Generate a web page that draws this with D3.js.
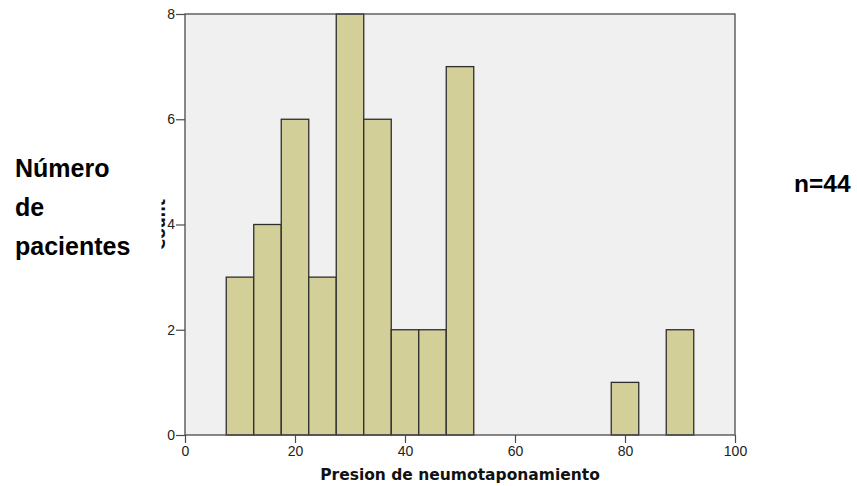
<!DOCTYPE html>
<html>
<head>
<meta charset="utf-8">
<script src="https://cdn.jsdelivr.net/npm/d3@7"></script>
<style>
  body { margin: 0; background: #fff; }
  svg { display: block; }
</style>
</head>
<body>
<div id="chart"></div>
<script>
// histogram bins (lower edge) and patient counts
const binStarts = [7.5, 12.5, 17.5, 22.5, 27.5, 32.5, 37.5, 42.5, 47.5, 77.5, 87.5];
const counts = [3, 4, 6, 3, 8, 6, 2, 2, 7, 1, 2];
const binWidth = 5;
const xTicks = [0, 20, 40, 60, 80, 100];
const yTicks = [0, 2, 4, 6, 8];
const xTitle = 'Presion de neumotaponamiento';
const yTitle = 'Count';
const sideLabel = ['Número', 'de', 'pacientes'];
const nLabel = 'n=44';

const width = 857, height = 486;
const plotL = 185, plotR = 735, plotT = 14, plotB = 435;

const svg = d3.select('#chart').append('svg')
  .attr('width', width).attr('height', height);

const x = d3.scaleLinear().domain([0, 100]).range([plotL, plotR]);
const y = d3.scaleLinear().domain([0, 8]).range([plotB, plotT]);

svg.append('rect')
  .attr('x', plotL).attr('y', plotT)
  .attr('width', plotR - plotL).attr('height', plotB - plotT)
  .attr('fill', '#f0f0f0');

const data = binStarts.map((s, i) => ({ x0: s, x1: s + binWidth, n: counts[i] }));

svg.append('g').selectAll('rect')
  .data(data)
  .enter().append('rect')
  .attr('x', d => x(d.x0))
  .attr('y', d => y(d.n))
  .attr('width', d => x(d.x1) - x(d.x0))
  .attr('height', d => y(0) - y(d.n))
  .attr('fill', '#d3cf98')
  .attr('stroke', '#2e2e2e')
  .attr('stroke-width', 1.3);

svg.append('rect')
  .attr('x', plotL).attr('y', plotT)
  .attr('width', plotR - plotL).attr('height', plotB - plotT)
  .attr('fill', 'none')
  .attr('stroke', '#4a4a4a')
  .attr('stroke-width', 1.3);

svg.append('text')
  .attr('transform', `translate(165,${(plotT + plotB) / 2}) rotate(-90)`)
  .attr('text-anchor', 'middle')
  .style('font-family', '"DejaVu Sans", sans-serif')
  .style('font-weight', 'bold')
  .style('font-size', '15.5px')
  .attr('fill', '#111')
  .text(yTitle);

const xAxis = svg.append('g')
  .attr('transform', `translate(0,${plotB})`)
  .call(d3.axisBottom(x).tickValues(xTicks).tickSize(8).tickPadding(3));
const yAxis = svg.append('g')
  .attr('transform', `translate(${plotL},0)`)
  .call(d3.axisLeft(y).tickValues(yTicks).tickSize(9).tickPadding(1));

[xAxis, yAxis].forEach(g => {
  g.select('.domain').remove();
  g.selectAll('line').attr('stroke', '#4a4a4a').attr('stroke-width', 1.2);
  g.selectAll('text')
    .attr('fill', '#222')
    .style('font-family', '"Liberation Sans", Arial, sans-serif')
    .style('font-size', '14px');
});

svg.append('text')
  .attr('x', (plotL + plotR) / 2).attr('y', 480)
  .attr('text-anchor', 'middle')
  .style('font-family', '"DejaVu Sans", sans-serif')
  .style('font-weight', 'bold')
  .style('font-size', '15.5px')
  .attr('fill', '#111')
  .text(xTitle);

// text box from the document covers part of the axis title
svg.append('rect')
  .attr('x', 0).attr('y', 140)
  .attr('width', 161.5).attr('height', 130)
  .attr('fill', '#fff');

svg.append('g').selectAll('text')
  .data(sideLabel)
  .enter().append('text')
  .attr('x', 15)
  .attr('y', (d, i) => 177 + i * 39)
  .style('font-family', '"Liberation Sans", Arial, sans-serif')
  .style('font-weight', 'bold')
  .style('font-size', '25px')
  .attr('fill', '#000')
  .text(d => d);

svg.append('text')
  .attr('x', 794).attr('y', 192)
  .style('font-family', '"Liberation Sans", Arial, sans-serif')
  .style('font-weight', 'bold')
  .style('font-size', '24.5px')
  .attr('fill', '#000')
  .text(nLabel);
</script>
</body>
</html>
